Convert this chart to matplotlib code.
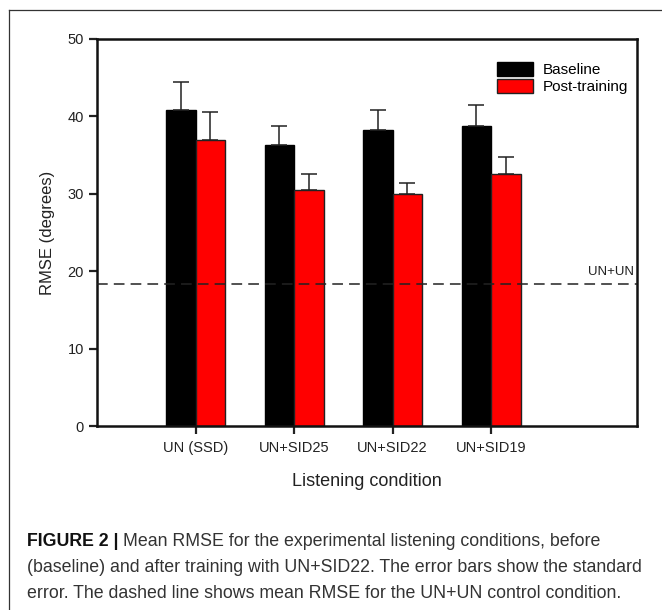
import numpy as np
import matplotlib
matplotlib.use("Agg")
import matplotlib.pyplot as plt
from matplotlib.lines import Line2D

# data: mean RMSE (degrees) and standard error per listening condition
conditions = ["UN (SSD)", "UN+SID25", "UN+SID22", "UN+SID19"]
baseline = [40.8, 36.3, 38.3, 38.7]
baseline_se = [3.6, 2.5, 2.5, 2.8]
post = [36.9, 30.5, 30.0, 32.6]
post_se = [3.7, 2.1, 1.4, 2.1]
un_un = 18.3

plt.rcParams['font.family'] = ['Liberation Sans', 'DejaVu Sans']

fig = plt.figure(figsize=(6.62, 6.10), dpi=100)
ax = fig.add_axes([97/662, 184/610, 540/662, 387/610])

ind = np.arange(1, len(conditions) + 1)
width = 0.3
zeros = np.zeros(len(ind))
ekw = dict(ecolor='#222222', elinewidth=1.1, capsize=6, capthick=1.1)
ax.bar(ind - width/2, baseline, width, color='black', edgecolor='black', linewidth=1,
       yerr=[zeros, baseline_se], error_kw=ekw, label='Baseline', zorder=2)
ax.bar(ind + width/2, post, width, color='#ff0000', edgecolor='#222222', linewidth=1,
       yerr=[zeros, post_se], error_kw=ekw, label='Post-training', zorder=2)

# control condition reference line
ax.axhline(un_un, color='#222222', linestyle=(0, (7, 4)), linewidth=1.1, zorder=3)
ax.text(5.45, un_un + 0.8, 'UN+UN', ha='right', va='bottom', fontsize=9.5, color='#222222')

ax.set_xlim(0, 5.48)
ax.set_ylim(0, 50)
ax.set_yticks([0, 10, 20, 30, 40, 50])
ax.set_xticks(ind)
ax.set_xticklabels(conditions)
ax.tick_params(axis='both', direction='out', length=6, width=1.6, labelsize=10.5, colors='#222222')
ax.tick_params(axis='x', pad=5)
for s in ax.spines.values():
    s.set_linewidth(1.8)
    s.set_color('#111111')
ax.set_ylabel('RMSE (degrees)', fontsize=12, labelpad=9, color='#222222')
ax.set_xlabel('Listening condition', fontsize=13, labelpad=13, color='#222222')

leg = ax.legend(loc='upper right', bbox_to_anchor=(1.0, 0.965), frameon=False, fontsize=11,
                handlelength=2.4, handleheight=1.1, handletextpad=0.6, labelspacing=0.1,
                borderaxespad=0.2)

# open frame around the figure panel
fig.add_artist(Line2D([9/662, 9/662], [0, 1 - 10/610], transform=fig.transFigure, color='#333333', linewidth=0.9))
fig.add_artist(Line2D([9/662, 1], [1 - 10/610, 1 - 10/610], transform=fig.transFigure, color='#333333', linewidth=0.9))

# caption, bold label followed by regular text
cap_fam = ['Liberation Sans', 'DejaVu Sans']
cap_size = 12.8
cap_color = '#333333'
x0 = 27/662
lines = [
    "Mean RMSE for the experimental listening conditions, before",
    "(baseline) and after training with UN+SID22. The error bars show the standard",
    "error. The dashed line shows mean RMSE for the UN+UN control condition.",
]
ys = [1 - 542/610, 1 - 568/610, 1 - 593/610]
t0 = fig.text(x0, ys[0], "FIGURE 2 | ", fontsize=cap_size, fontweight='bold', family=cap_fam,
              color='#111111', va='center')
fig.canvas.draw()
bb = t0.get_window_extent(renderer=fig.canvas.get_renderer())
fig.text(bb.x1 / fig.bbox.width, ys[0], lines[0], fontsize=cap_size, family=cap_fam, color=cap_color, va='center')
for y, s in zip(ys[1:], lines[1:]):
    fig.text(x0, y, s, fontsize=cap_size, family=cap_fam, color=cap_color, va='center')

fig.savefig('out.png', dpi=100)
